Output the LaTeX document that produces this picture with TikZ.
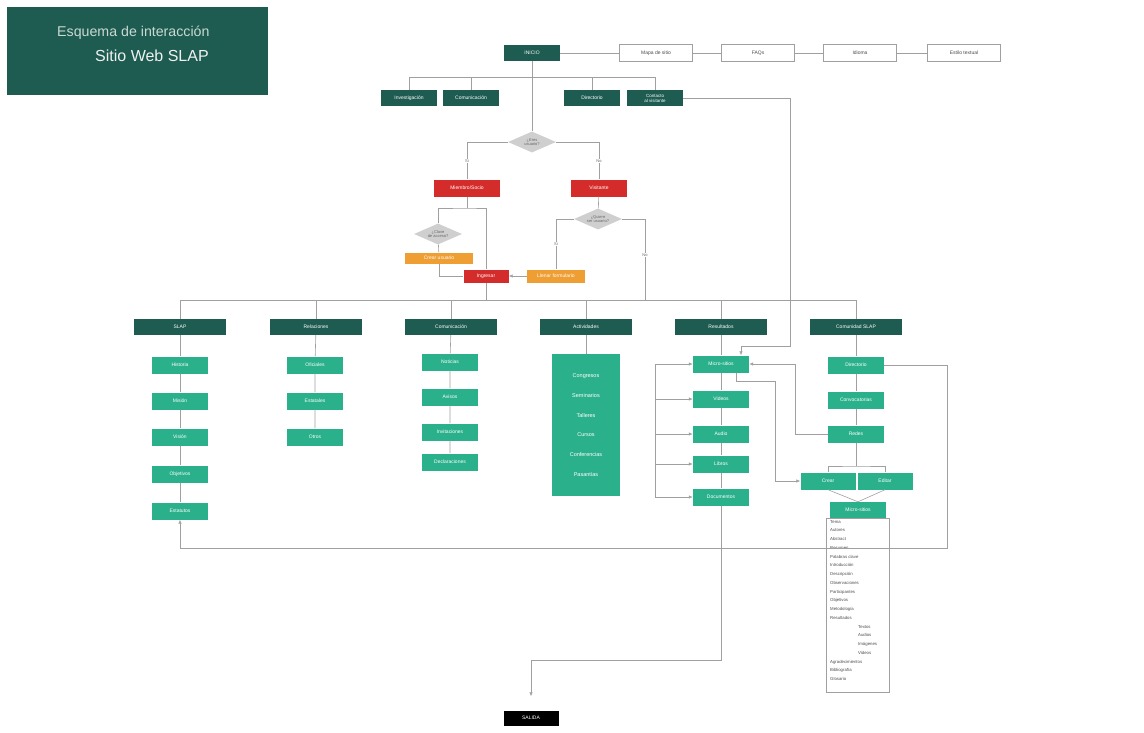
\documentclass[tikz,border=0pt]{standalone}
\usepackage{fontspec}
\setmainfont{Liberation Sans}
\usetikzlibrary{shapes.geometric,arrows.meta}
\definecolor{dteal}{HTML}{1E5B51}
\definecolor{lgreen}{HTML}{2BB08C}
\definecolor{sred}{HTML}{D42B2B}
\definecolor{sorange}{HTML}{EE9E32}
\definecolor{dgray}{HTML}{CFCFCF}
\definecolor{lnc}{HTML}{A0A0A0}
\definecolor{ttl}{HTML}{C9D9D4}
\tikzset{
 base/.style={inner sep=0pt, font=\fontsize{5}{6}\selectfont, text=white, align=center},
 hdr/.style={base, fill=dteal, minimum width=92pt, minimum height=16pt},
 tbox/.style={base, fill=dteal, minimum width=56pt, minimum height=16pt},
 wbox/.style={base, draw=lnc, line width=0.5pt, fill=white, text=black!70, minimum width=73pt, minimum height=17pt},
 gbox/.style={base, fill=lgreen, minimum width=56pt, minimum height=17pt},
 rbox/.style={base, fill=sred, minimum height=17pt},
 obox/.style={base, fill=sorange, minimum height=12pt},
 dia/.style={base, diamond, fill=dgray, text=black!60, aspect=2.2, minimum width=48pt, minimum height=21pt, font=\fontsize{4}{4.5}\selectfont},
 ln/.style={draw=lnc, line width=0.6pt},
 arr/.style={ln, -{Latex[length=4pt,width=3.5pt]}},
 lbl/.style={font=\fontsize{4}{5}\selectfont, text=black!60, fill=white, inner sep=0.5pt},
}
\begin{document}
\begin{tikzpicture}[x=1pt,y=-1pt]
\useasboundingbox (0,0) rectangle (1144,732);
% title
\node[fill=dteal, minimum width=261pt, minimum height=88pt, anchor=north west, inner sep=0] (title) at (7,7) {};
\node[anchor=west, text=ttl, font=\fontsize{14.2}{16}\selectfont, inner sep=0] (t1) at (57,33) {Esquema de interacción};
\node[anchor=west, text=white!92!dteal, font=\fontsize{16}{18}\selectfont, inner sep=0] (t2) at (95,56) {Sitio Web SLAP};
% top row
\node[tbox] (inicio) at (532,53) {INICIO};
\node[wbox] (mapa) at (656,53) {Mapa de sitio};
\node[wbox] (faqs) at (758,53) {FAQs};
\node[wbox] (idioma) at (860,53) {Idioma};
\node[wbox] (estilo) at (964,53) {Estilo textual};
\draw[ln] (inicio) -- (mapa) -- (faqs) -- (idioma) -- (estilo);
% second row
\node[tbox] (inv) at (409,98) {Investigación};
\node[tbox] (comu) at (471,98) {Comunicación};
\node[tbox] (dir) at (592,98) {Directorio};
\node[tbox, font=\fontsize{4.5}{5}\selectfont] (cont) at (655,98) {Contacto\\al visitante};
\coordinate (bar1) at (532,77);
\draw[ln] (inv.north) -- (inv.north|-bar1) -- (cont.north|-bar1) -- (cont.north);
\draw[ln] (comu.north) -- (comu.north|-bar1);
\draw[ln] (dir.north) -- (dir.north|-bar1);
% decisions
\node[dia] (d1) at (532,142) {¿Eres\\usuario?};
\draw[ln] (inicio) -- (d1);
\node[rbox, minimum width=66pt] (miem) at (467,188) {Miembro/Socio};
\node[rbox, minimum width=56pt] (vis) at (599,188) {Visitante};
\draw[ln] (d1.west) -| (miem.north) node[pos=0.75, lbl] {Si};
\draw[ln] (d1.east) -| (vis.north) node[pos=0.75, lbl] {No};
\node[dia] (d2) at (438,234) {¿Clave\\de acceso?};
\node[obox, minimum width=68pt, minimum height=11pt] (crear) at (439,258) {Crear usuario};
\node[rbox, minimum width=45pt, minimum height=13pt] (ing) at (486,276) {Ingresar};
\node[obox, minimum width=58pt, minimum height=13pt] (llenar) at (556,276) {Llenar formulario};
\node[dia] (d3) at (598,219) {¿Quiere\\ser usuario?};
\coordinate (mb) at (467,208);
\draw[ln] (miem.south) -- (mb);
\draw[ln] (d2.north) |- (mb) -| (ing.north);
\draw[ln] (d2) -- (crear);
\draw[ln] (crear.south) |- (ing.west);
\draw[ln] (vis) -- (d3);
\draw[ln] (d3.west) -| (llenar.north) node[pos=0.75, lbl] {Si};
\coordinate (nodrop) at (645,300);
\draw[ln] (d3.east) -| (nodrop) node[pos=0.72, lbl] {No};
\draw[arr] (llenar) -- (ing);
% main bar
\coordinate (bar2) at (0,300);
\node[hdr] (slapH) at (180,327) {SLAP};
\node[hdr] (relH) at (316,327) {Relaciones};
\node[hdr] (comH) at (451,327) {Comunicación};
\node[hdr] (actH) at (586,327) {Actividades};
\node[hdr] (resH) at (721,327) {Resultados};
\node[hdr] (cmH) at (856,327) {Comunidad SLAP};
\draw[ln] (ing.south) -- (ing.south|-bar2);
\draw[ln] (slapH.north|-bar2) -- (cmH.north|-bar2);
\foreach \n in {slapH,relH,comH,actH,resH,cmH} \draw[ln] (\n.north) -- (\n.north|-bar2);
% SLAP
\node[gbox] (s1) at (180,365) {Historia};
\node[gbox] (s2) at (180,401) {Misión};
\node[gbox] (s3) at (180,437) {Visión};
\node[gbox] (s4) at (180,474) {Objetivos};
\node[gbox] (s5) at (180,511) {Estatutos};
\draw[ln] (slapH) -- (s1) -- (s2) -- (s3) -- (s4) -- (s5);
% Relaciones
\node[gbox] (re1) at (315,365) {Oficiales};
\node[gbox] (re2) at (315,401) {Estatales};
\node[gbox] (re3) at (315,437) {Otros};
\draw[ln] (relH) -- (re1) -- (re2) -- (re3);
% Comunicacion
\node[gbox] (co1) at (450,362) {Noticias};
\node[gbox] (co2) at (450,397) {Avisos};
\node[gbox] (co3) at (450,432) {Invitaciones};
\node[gbox] (co4) at (450,462) {Declaraciones};
\draw[ln] (comH) -- (co1) -- (co2) -- (co3) -- (co4);
% Actividades
\node[base, fill=lgreen, minimum width=68pt, minimum height=142pt, font=\fontsize{5.5}{19.8}\selectfont] (act) at (586,425) {Congresos\\Seminarios\\Talleres\\Cursos\\Conferencias\\Pasantías};
\draw[ln] (actH) -- (act);
% Resultados
\node[gbox] (rm1) at (721,364) {Micro-sitios};
\node[gbox] (rm2) at (721,399) {Videos};
\node[gbox] (rm3) at (721,434) {Audio};
\node[gbox] (rm4) at (721,464) {Libros};
\node[gbox] (rm5) at (721,497) {Documentos};
\draw[ln] (resH) -- (rm1) -- (rm2) -- (rm3) -- (rm4) -- (rm5);
\coordinate (bk) at (655,0);
\draw[ln] (rm1.west-|bk) -- (rm5.west-|bk);
\foreach \n in {rm1,rm2,rm3,rm4,rm5} \draw[arr] (\n.west-|bk) -- (\n.west);
% Comunidad
\node[gbox] (cd1) at (856,365) {Directorio};
\node[gbox] (cd2) at (856,400) {Convocatorias};
\node[gbox] (cd3) at (856,434) {Redes};
\draw[ln] (cmH) -- (cd1) -- (cd2) -- (cd3);
\node[gbox, minimum width=55pt] (crC) at (828,481) {Crear};
\node[gbox, minimum width=55pt] (edC) at (885,481) {Editar};
\coordinate (br) at (856,466);
\draw[ln] (cd3.south) -- (br);
\draw[ln] (crC.north) |- (br) -| (edC.north);
\node[gbox, minimum height=16pt] (mc) at (858,510) {Micro-sitios};
\draw[ln] (crC.south) -- (mc.north);
\draw[ln] (edC.south) -- (mc.north);
\node[draw=lnc, line width=0.5pt, minimum width=63pt, minimum height=174pt, anchor=north west, inner sep=0] (meta) at (826,518) {};
\node[anchor=north west, align=left, inner sep=0, text=black!70, font=\fontsize{4.3}{8.75}\selectfont] (metatxt) at (830,520) {Tema\\Autores\\Abstract\\Resumen\\Palabras clave\\Introducción\\Descripción\\Observaciones\\Participantes\\Objetivos\\Metodología\\Resultados\\\hspace*{28pt}Textos\\\hspace*{28pt}Audios\\\hspace*{28pt}Imágenes\\\hspace*{28pt}Videos\\Agradecimientos\\Bibliografía\\Glosario};
% cross connectors
\coordinate (cc2) at (790,346);
\draw[arr] (cont.east) -| (cc2) -| ([xshift=20pt]rm1.north);
\coordinate (e1) at (947,548);
\draw[arr] (cd1.east) -| (e1) -| (s5.south);
\coordinate (rr1) at (795,364);
\draw[arr] (cd3.west) -| (rr1) -- (rm1.east);
\coordinate (m1) at (775,381);
\draw[arr] ([xshift=15pt]rm1.south) |- (m1) |- (crC.west);
% salida
\node[base, fill=black, minimum width=55pt, minimum height=15pt] (salida) at (531,718) {SALIDA};
\coordinate (sx) at (721,660);
\draw[arr, shorten >=14pt] (rm5.south) -- (rm5.south|-sx) -| (salida.north);
\end{tikzpicture}
\end{document}
